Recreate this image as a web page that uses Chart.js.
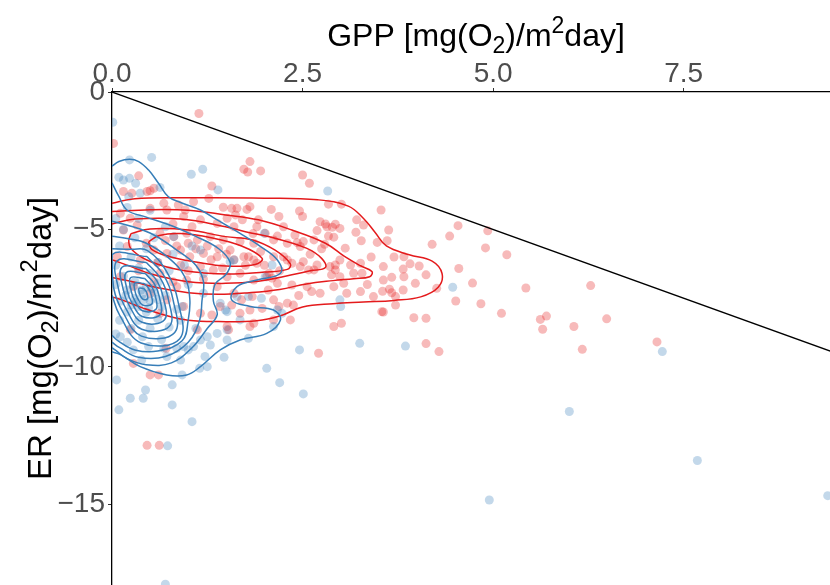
<!DOCTYPE html>
<html><head><meta charset="utf-8">
<script src="https://cdn.jsdelivr.net/npm/chart.js@4.4.1/dist/chart.umd.min.js"></script>
<style>html,body{margin:0;padding:0;background:#fff;overflow:hidden}canvas{display:block}</style>
</head><body>
<canvas id="c" width="830" height="585"></canvas>
<script>
// ---- axes ----
const X_TICKS = [0, 2.5, 5, 7.5];
const Y_TICKS = [0, -5, -10, -15];
const X_RANGE = [0, 9.42];
const Y_RANGE = [-17.93, 0];
// rich-text titles: [text, 0=normal 1=subscript 2=superscript]
const X_TITLE = [["GPP [mg(O", 0], ["2", 1], [")/m", 0], ["2", 2], ["day]", 0]];
const Y_TITLE = [["ER [mg(O", 0], ["2", 1], [")/m", 0], ["2", 2], ["day]", 0]];

// 1:1 reference line  ER = -GPP
const REF_LINE = [[0, 0], [10, -10]];

// ---- scatter points (GPP, ER) ----
const RED_POINTS = [
[1.14,-0.78],[0.02,-1.87],[1.81,-2.53],[1.73,-2.81],[1.78,-2.91],[1.95,-2.87],[2.50,-3.02],[2.59,-3.32],
[0.35,-3.05],[0.55,-3.5],[0.15,-3.62],[0.26,-3.68],[0.50,-3.59],[1.31,-3.42],[1.07,-3.99],[1.27,-3.87],
[1.46,-4.19],[1.64,-4.23],[1.77,-4.27],[0.50,-4.23],[0.72,-4.29],[0.87,-4.11],[0.11,-4.41],[0.24,-4.59],
[0.33,-4.84],[0.15,-5.02],[0.94,-4.53],[1.16,-4.65],[1.38,-4.78],[1.51,-4.59],[1.60,-4.90],[1.90,-4.90],
[0.46,-3.62],[0.68,-4.05],[0.96,-4.29],[2.84,-4.08],[3.01,-4.08],[1.57,-4.23],[1.81,-4.17],[2.09,-4.27],
[2.19,-4.53],[2.46,-4.33],[2.50,-4.53],[1.92,-4.65],[1.71,-4.65],[1.62,-4.47],[2.73,-4.72],[2.80,-4.8],
[2.89,-4.92],[2.93,-4.81],[2.99,-4.96],[2.69,-5.04],[2.84,-5.24],[2.91,-5.28],[3.06,-5.68],[2.79,-5.54],
[2.01,-5.14],[2.17,-5.24],[2.43,-5.48],[2.51,-5.44],[3.53,-4.29],[3.30,-4.84],[3.63,-5.02],[3.21,-4.65],
[3.27,-5.41],[3.48,-5.47],[3.61,-5.41],[4.20,-5.54],[4.43,-5.24],[4.54,-4.86],[4.93,-5.05],[4.90,-5.67],
[5.18,-5.92],[4.55,-6.42],[3.83,-5.99],[3.91,-6.25],[3.56,-6.35],[3.13,-6.29],[3.82,-6.44],[4.03,-6.33],
[4.12,-6.65],[3.28,-6.59],[3.56,-6.84],[3.67,-6.74],[3.98,-6.96],[4.26,-7.14],[4.73,-6.95],[3.64,-7.17],
[3.67,-7.30],[3.82,-7.2],[3.72,-7.44],[3.43,-7.44],[4.51,-7.6],[4.84,-7.7],[5.43,-7.13],[6.28,-7.04],
[5.11,-8.05],[5.62,-8.27],[5.70,-8.15],[5.65,-8.63],[6.06,-8.53],[6.49,-8.25],[7.15,-9.09],[6.17,-9.36],
[4.12,-8.23],[3.96,-8.21],[3.56,-8.0],[3.72,-7.75],[4.12,-9.15],[4.29,-9.44],[3.26,-7.26],[3.83,-6.72],
[3.54,-7.99],[2.91,-8.53],[3.01,-8.41],[2.71,-9.5],[1.79,-5.99],[1.86,-6.11],[2.25,-5.99],[2.36,-6.23],
[2.51,-6.17],[2.58,-6.47],[2.69,-6.29],[2.93,-6.47],[2.99,-6.72],[3.04,-6.96],[2.93,-6.29],[2.88,-6.65],
[2.17,-6.96],[2.36,-7.02],[2.62,-7.26],[2.73,-7.32],[2.30,-7.68],[2.38,-7.75],[2.19,-7.8],[1.81,-7.93],
[1.70,-7.56],[1.84,-7.44],[1.57,-7.75],[2.34,-8.29],[1.81,-8.53],[1.53,-8.65],[1.97,-7.87],[2.06,-6.59],
[2.10,-6.77],[0.63,-5.14],[0.81,-5.26],[0.98,-5.14],[1.12,-5.38],[1.29,-5.26],[1.46,-5.38],[1.68,-5.44],
[1.86,-5.5],[2.12,-5.38],[2.30,-5.5],[2.47,-5.62],[2.65,-5.38],[2.82,-4.90],[0.55,-5.75],[0.72,-5.87],
[0.90,-5.75],[1.02,-5.99],[1.20,-5.87],[1.38,-5.99],[1.55,-5.75],[1.73,-5.99],[1.90,-6.23],[2.12,-5.99],
[2.30,-6.11],[2.47,-6.35],[2.65,-6.47],[2.86,-6.35],[2.99,-6.11],[3.17,-6.59],[3.26,-6.23],[1.16,-6.35],
[1.33,-6.47],[1.51,-6.72],[1.68,-6.59],[1.86,-6.84],[2.03,-6.72],[2.56,-7.08],[2.91,-7.08],[3.08,-7.32],
[1.38,-7.08],[1.60,-7.32],[2.12,-7.56],[1.42,-7.8],[1.68,-8.05],[1.86,-8.41],[2.12,-8.29],[1.16,-8.05],
[0.94,-7.8],[0.72,-7.56],[0.85,-7.08],[0.98,-6.84],[0.63,-6.59],[0.37,-6.11],[0.20,-5.62],[0.07,-5.99],
[0.11,-6.72],[0.28,-7.08],[0.50,-7.32],[0.63,-8.05],[0.50,-10.29],[0.61,-10.29],[0.24,-8.65],[1.12,-8.65],
[1.51,-8.53],[0.28,-9.87],[0.46,-12.85],[0.62,-12.85],[0.71,-9.32],[1.31,-8.11],
[0.70,-5.4],[0.85,-5.6],[1.0,-5.5],[1.1,-5.7],[1.25,-5.6],[1.4,-5.7],[1.5,-5.9],[1.6,-6.1],
[1.75,-6.3],[1.3,-6.1],[0.9,-6.3],[1.0,-6.5],[1.45,-6.4],[1.2,-6.8],[0.6,-6.2],[0.45,-5.5],
[0.35,-6.5],[0.8,-6.9],[0.55,-6.9],[2.0,-6.3],[2.2,-6.5],[1.95,-5.8],[2.6,-5.9],[2.75,-5.7],
[2.4,-5.2],[1.05,-4.9],[0.8,-4.8],[1.85,-5.15],[2.25,-4.9],[3.2,-5.1],[3.4,-6.0],[3.7,-6.0],
[3.35,-7.0],[3.55,-7.25],[2.45,-7.4],[2.05,-7.2]
];
const BLUE_POINTS = [
[0.01,-1.1],[0.23,-2.47],[0.52,-2.38],[0.09,-3.10],[0.15,-3.2],[0.23,-3.14],[0.31,-3.32],[1.04,-2.99],
[1.19,-2.81],[1.39,-3.56],[0.63,-3.47],[0.22,-3.81],[2.83,-3.6],[0.37,-3.68],[0.81,-5.26],[1.16,-5.75],
[1.6,-6.11],[1.64,-7.44],[1.42,-7.68],[1.25,-8.9],[1.07,-9.26],[1.51,-9.02],[1.29,-9.2],[0.72,-9.62],
[0.90,-9.75],[0.48,-9.26],[0.28,-9.38],[0.11,-8.9],[0.06,-10.47],[0.09,-11.56],[0.24,-11.14],[0.41,-11.14],
[0.44,-10.84],[0.79,-10.65],[0.79,-11.38],[1.05,-11.99],[0.73,-12.87],[3.0,-7.8],[2.03,-10.05],[2.2,-10.57],
[2.51,-10.98],[2.46,-9.38],[2.17,-7.93],[1.79,-7.44],[2.10,-6.29],[1.55,-6.17],[2.01,-6.72],[1.51,-7.99],
[1.68,-8.29],[2.12,-8.53],[1.79,-8.96],[2.23,-8.05],[2.0,-5.14],[1.51,-8.65],[1.25,-9.99],[0.68,-9.32],
[0.94,-9.26],[1.16,-9.02],[0.92,-7.8],[1.20,-7.32],[1.96,-7.5],[2.99,-7.56],[0.39,-9.75],[1.22,-9.62],
[1.47,-9.65],[1.15,-10.05],[0.92,-10.29],[1.49,-7.93],[1.38,-8.78],[1.0,-9.38],[0.85,-9.32],
[4.47,-7.1],[3.25,-9.14],[3.85,-9.24],[7.22,-9.44],[6.0,-11.62],[7.68,-13.4],[4.95,-14.84],[9.39,-14.68],[0.70,-17.9],
[0.05,-4.6],[0.15,-5.0],[0.3,-5.3],[0.1,-5.6],[0.45,-5.7],[0.25,-6.0],[0.05,-6.3],[0.6,-6.2],
[0.35,-6.4],[0.15,-6.7],[0.5,-6.6],[0.75,-6.5],[0.3,-6.9],[0.6,-6.95],[0.05,-7.0],[0.2,-7.2],
[0.45,-7.1],[0.4,-7.35],[0.55,-7.3],[0.3,-7.5],[0.7,-7.4],[0.12,-7.6],[0.5,-7.6],[0.35,-7.8],
[0.65,-7.8],[0.2,-8.0],[0.45,-8.0],[0.85,-7.9],[0.1,-8.3],[0.35,-8.3],[0.6,-8.25],[0.25,-8.6],
[0.5,-8.6],[0.75,-8.55],[0.05,-8.8],[0.4,-8.9],[0.65,-9.0],[0.2,-9.1],[0.9,-8.3],[1.0,-7.0],
[0.95,-6.3],[0.8,-5.9],[0.55,-5.3],[0.7,-4.9],[0.35,-4.6],[0.2,-4.2],[0.5,-4.3],[1.05,-5.6],
[1.2,-6.6],[1.1,-8.6],[0.28,-7.05],[0.42,-7.55],[0.38,-7.2],[0.52,-7.15],[0.18,-7.4],[0.6,-7.55],
[0.32,-7.65],[0.48,-7.85],[0.25,-7.75]
];

// ---- density contours, red group (outer -> inner) ----
const RED_C1 = [[0,-4.05],[0.3,-3.88],[1.0,-3.85],[2.0,-3.86],[2.7,-3.92],[3.1,-4.15],[3.3,-4.6],[3.45,-5.1],[3.6,-5.6],[3.9,-5.92],[4.2,-6.15],[4.33,-6.6],[4.28,-7.1],[4.05,-7.45],[3.7,-7.58],[3.3,-7.64],[2.9,-7.7],[2.5,-7.82],[2.2,-8.15],[1.9,-8.32],[1.4,-8.35],[1.0,-8.3],[0.7,-8.12],[0.4,-7.85],[0.12,-7.55],[0,-7.45]];
const RED_C2 = [[0,-4.35],[0.5,-4.28],[1.0,-4.3],[1.49,-4.47],[1.92,-4.65],[2.36,-5.02],[2.8,-5.5],[3.05,-5.98],[3.26,-6.32],[3.41,-6.53],[3.38,-6.72],[3.17,-6.79],[2.9,-6.86],[2.55,-6.98],[2.2,-7.18],[1.8,-7.3],[1.4,-7.36],[1.0,-7.3],[0.6,-7.12],[0.3,-6.92],[0,-6.75]];
const RED_C3 = [[0,-4.8],[0.3,-4.62],[0.9,-4.62],[1.49,-4.9],[1.75,-5.08],[2.14,-5.32],[2.55,-5.68],[2.75,-6.05],[2.8,-6.38],[2.6,-6.5],[2.36,-6.65],[1.92,-6.88],[1.49,-6.96],[1.0,-6.9],[0.55,-6.65],[0.25,-6.35],[0,-6.1]];
const RED_C4 = [[0.25,-5.15],[0.5,-4.98],[1.0,-5.02],[1.49,-5.26],[1.84,-5.38],[2.14,-5.75],[2.34,-6.25],[2.3,-6.45],[2.0,-6.55],[1.6,-6.62],[1.2,-6.58],[0.8,-6.42],[0.45,-6.1],[0.25,-5.7],[0.22,-5.4],[0.25,-5.15]];
const RED_C5 = [[0.48,-5.45],[0.62,-5.22],[0.9,-5.15],[1.3,-5.3],[1.7,-5.6],[1.97,-6.05],[1.88,-6.27],[1.5,-6.33],[1.1,-6.18],[0.75,-5.98],[0.52,-5.72],[0.48,-5.45]];

// ---- density contours, blue group (outer -> inner) ----
const BLUE_C1 = [[0,-2.7],[0.09,-2.53],[0.23,-2.45],[0.35,-2.53],[0.48,-2.84],[0.61,-3.32],[0.74,-3.81],[0.9,-4.02],[1.16,-4.29],[1.38,-4.65],[1.68,-5.14],[1.95,-5.62],[2.17,-6.11],[2.21,-6.59],[1.9,-6.84],[1.64,-7.08],[1.57,-7.56],[1.81,-7.8],[2.12,-7.93],[2.21,-8.29],[2.03,-8.78],[1.68,-9.02],[1.42,-9.38],[1.16,-9.99],[0.98,-10.29],[0.72,-10.29],[0.37,-9.99],[0.11,-9.55],[0,-9.45]];
const BLUE_C2 = [[0,-3.3],[0.09,-3.8],[0.2,-4.3],[0.45,-4.55],[0.8,-4.88],[1.1,-5.25],[1.4,-5.7],[1.55,-6.2],[1.5,-6.62],[1.35,-7.0],[1.33,-7.6],[1.38,-8.1],[1.25,-8.6],[1.05,-9.3],[0.78,-9.85],[0.45,-9.92],[0.2,-9.7],[0.05,-9.4],[0,-9.3]];
const BLUE_C3 = [[0,-4.7],[0.25,-4.88],[0.55,-5.2],[0.85,-5.75],[1.1,-6.3],[1.2,-6.9],[1.18,-7.6],[1.15,-8.3],[1.0,-9.1],[0.7,-9.62],[0.35,-9.65],[0.1,-9.3],[0,-9.1]];
const BLUE_C4 = [[0,-5.25],[0.2,-5.33],[0.45,-5.5],[0.75,-6.05],[0.95,-6.7],[1.02,-7.5],[1.0,-8.3],[0.92,-9.05],[0.6,-9.42],[0.3,-9.38],[0.08,-9.05],[0,-8.85]];
const BLUE_C5 = [[0,-5.70],[0.25,-5.72],[0.466,-5.767],[0.72,-6.548],[0.862,-7.564],[0.889,-8.972],[0.382,-9.128],[0.1,-8.112],[0,-7.39]];
const BLUE_C6 = [[0.458,-5.985],[0.677,-6.657],[0.799,-7.532],[0.823,-8.743],[0.386,-8.877],[0.143,-8.003],[0.022,-7.128],[0.0,-5.917],[0.458,-5.985]];
const BLUE_C7 = [[0.451,-6.203],[0.634,-6.766],[0.736,-7.499],[0.756,-8.514],[0.390,-8.626],[0.186,-7.894],[0.085,-7.161],[0.064,-6.146],[0.451,-6.203]];
const BLUE_C8 = [[0.443,-6.421],[0.591,-6.875],[0.673,-7.466],[0.689,-8.285],[0.394,-8.376],[0.230,-7.785],[0.148,-7.194],[0.131,-6.376],[0.443,-6.421]];
const BLUE_C9 = [[0.436,-6.603],[0.554,-6.966],[0.620,-7.439],[0.633,-8.094],[0.397,-8.166],[0.266,-7.694],[0.200,-7.221],[0.187,-6.566],[0.436,-6.603]];
const BLUE_C10 = [[0.430,-6.785],[0.518,-7.057],[0.568,-7.412],[0.577,-7.903],[0.400,-7.957],[0.302,-7.603],[0.253,-7.248],[0.243,-6.757],[0.430,-6.785]];
const BLUE_C11 = [[0.423,-6.966],[0.482,-7.148],[0.515,-7.385],[0.522,-7.712],[0.403,-7.748],[0.338,-7.512],[0.305,-7.276],[0.299,-6.948],[0.423,-6.966]];
const BLUE_C12 = [[0.417,-7.148],[0.446,-7.239],[0.463,-7.357],[0.466,-7.521],[0.407,-7.539],[0.374,-7.421],[0.358,-7.303],[0.354,-7.139],[0.417,-7.148]];

const RED_CONTOURS = [RED_C1, RED_C2, RED_C3, RED_C4, RED_C5];
const BLUE_CONTOURS = [BLUE_C1, BLUE_C2, BLUE_C3, BLUE_C4, BLUE_C5, BLUE_C6, BLUE_C7, BLUE_C8, BLUE_C9, BLUE_C10, BLUE_C11, BLUE_C12];

// ---- rendering ----
const FONT = '"Liberation Sans", Arial, Helvetica, sans-serif';
const RED = '#E41A1C', BLUE = '#377EB8';
const toXY = a => a.map(p => ({x: p[0], y: p[1]}));

const datasets = [];
datasets.push({data: toXY(REF_LINE), showLine: true, borderColor: '#000', borderWidth: 1.3, pointRadius: 0, order: 0, clip: 0});
BLUE_CONTOURS.forEach(c => datasets.push({data: toXY(c), showLine: true, borderColor: BLUE, borderWidth: 1.5, pointRadius: 0, tension: 0.4, order: 1, clip: 0}));
RED_CONTOURS.forEach(c => datasets.push({data: toXY(c), showLine: true, borderColor: RED, borderWidth: 1.5, pointRadius: 0, tension: 0.4, order: 2, clip: 0}));
datasets.push({data: toXY(BLUE_POINTS), pointRadius: 4.5, pointHoverRadius: 4.5, pointBackgroundColor: 'rgba(55,126,184,0.3)', pointBorderWidth: 0, borderWidth: 0, order: 3, clip: 0});
datasets.push({data: toXY(RED_POINTS), pointRadius: 4.5, pointHoverRadius: 4.5, pointBackgroundColor: 'rgba(228,26,28,0.3)', pointBorderWidth: 0, borderWidth: 0, order: 4, clip: 0});

function drawRich(ctx, parts, size) {
  const sub = size * 0.72;
  let w = 0;
  parts.forEach(p => { ctx.font = (p[1] ? sub : size) + 'px ' + FONT; w += ctx.measureText(p[0]).width; });
  let x = -w / 2;
  ctx.textAlign = 'left'; ctx.textBaseline = 'alphabetic';
  parts.forEach(p => {
    ctx.font = (p[1] ? sub : size) + 'px ' + FONT;
    const dy = p[1] === 1 ? size * 0.22 : (p[1] === 2 ? -size * 0.42 : 0);
    ctx.fillText(p[0], x, dy);
    x += ctx.measureText(p[0]).width;
  });
}

const titles = {
  id: 'axisTitles',
  afterDraw(chart) {
    const ctx = chart.ctx, a = chart.chartArea;
    ctx.save();
    ctx.fillStyle = '#000';
    ctx.translate((a.left + a.right) / 2 + 5, 46);
    drawRich(ctx, X_TITLE, 32);
    ctx.restore();
    ctx.save();
    ctx.fillStyle = '#000';
    ctx.translate(51, (a.top + a.bottom) / 2);
    ctx.rotate(-Math.PI / 2);
    drawRich(ctx, Y_TITLE, 33);
    ctx.restore();
  }
};

new Chart(document.getElementById('c'), {
  type: 'scatter',
  data: {datasets},
  plugins: [titles],
  options: {
    responsive: false, animation: false, devicePixelRatio: 1, events: [],
    layout: {padding: 0, autoPadding: false},
    plugins: {legend: {display: false}, tooltip: {enabled: false}},
    scales: {
      x: {
        type: 'linear', position: 'top', min: X_RANGE[0], max: X_RANGE[1],
        afterBuildTicks: s => { s.ticks = X_TICKS.map(v => ({value: v})); },
        afterFit: s => { s.height = 92; s.paddingLeft = 0; s.paddingRight = 0; },
        ticks: {autoSkip: false, maxRotation: 0, color: '#4D4D4D', padding: 0,
                font: {family: FONT, size: 28, lineHeight: 1}, callback: v => Number(v).toFixed(1)},
        grid: {display: true, drawOnChartArea: false, drawTicks: true, tickLength: 4, color: '#333333', lineWidth: 1},
        border: {display: true, color: '#000', width: 1.3}
      },
      y: {
        type: 'linear', position: 'left', min: Y_RANGE[0], max: Y_RANGE[1],
        afterBuildTicks: s => { s.ticks = Y_TICKS.map(v => ({value: v})); },
        afterFit: s => { s.width = 112; s.paddingTop = 0; s.paddingBottom = 0; },
        ticks: {autoSkip: false, color: '#4D4D4D', padding: 3,
                font: {family: FONT, size: 28, lineHeight: 1},
                callback: v => (v < 0 ? '\u2212' + Math.abs(v) : String(v))},
        grid: {display: true, drawOnChartArea: false, drawTicks: true, tickLength: 4, color: '#333333', lineWidth: 1},
        border: {display: true, color: '#000', width: 1.3}
      }
    }
  }
});
</script>
</body></html>
